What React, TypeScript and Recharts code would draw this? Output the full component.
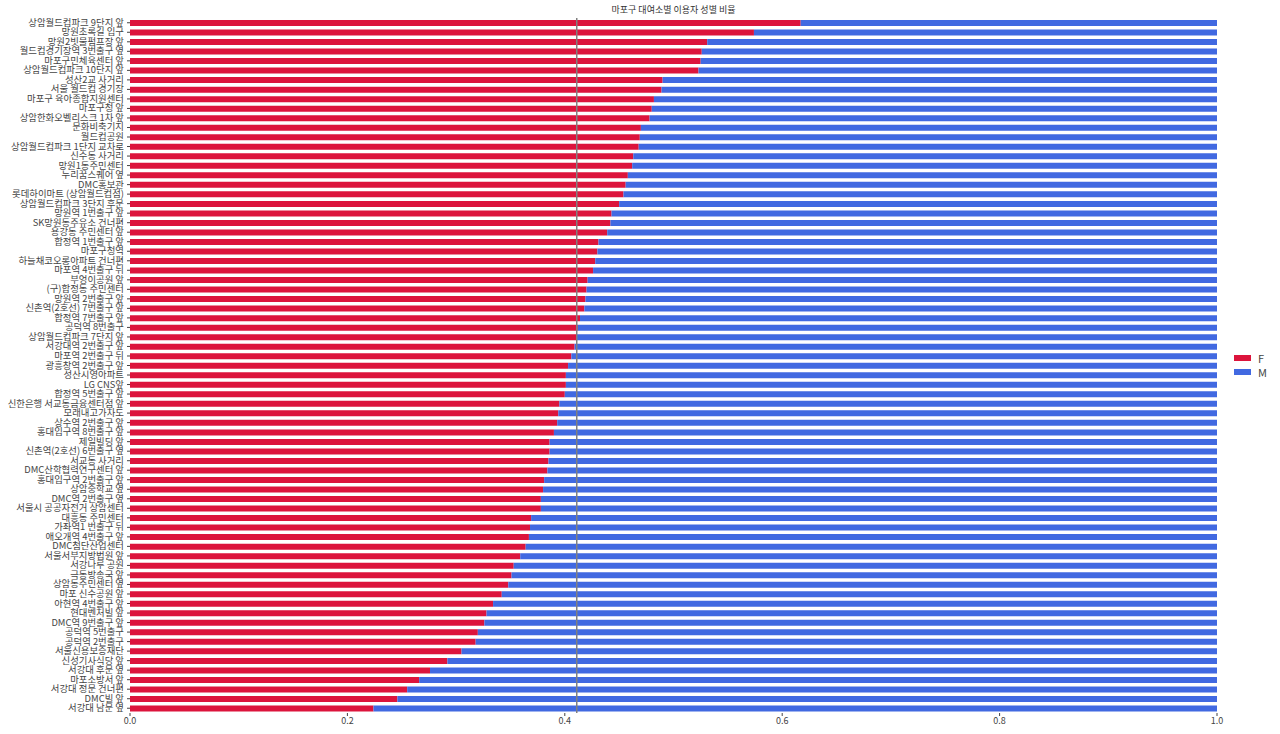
import { Bar, BarChart, ReferenceLine, XAxis, YAxis } from 'recharts';

const FEMALE = '#DC143C';
const MALE = '#4169E1';
const TEXT = '#444444';
const FONT = '"Noto Sans CJK KR", "Noto Sans", sans-serif';

const stations = [
  '상암월드컵파크 9단지 앞',
  '망원초록길 입구',
  '망원2빗물펌프장 앞',
  '월드컵경기장역 3번출구 옆',
  '마포구민체육센터 앞',
  '상암월드컵파크 10단지 앞',
  '성산2교 사거리',
  '서울 월드컵 경기장',
  '마포구 육아종합지원센터',
  '마포구청 앞',
  '상암한화오벨리스크 1차 앞',
  '문화비축기지',
  '월드컵공원',
  '상암월드컵파크 1단지 교차로',
  '신수동 사거리',
  '망원1동주민센터',
  '누리꿈스퀘어 옆',
  'DMC홍보관',
  '롯데하이마트 (상암월드컵점)',
  '상암월드컵파크 3단지 후문',
  '망원역 1번출구 앞',
  'SK망원동주유소 건너편',
  '용강동 주민센터 앞',
  '합정역 1번출구 앞',
  '마포구청역 ',
  '하늘채코오롱아파트 건너편',
  '마포역 4번출구 뒤',
  '부엉이공원 앞',
  '(구)합정동 주민센터',
  '망원역 2번출구 앞',
  '신촌역(2호선) 7번출구 앞',
  '합정역 7번출구 앞',
  '공덕역 8번출구',
  '상암월드컵파크 7단지 앞',
  '서강대역 2번출구 앞',
  '마포역 2번출구 뒤',
  '광흥창역 2번출구 앞',
  '성산시영아파트',
  'LG CNS앞',
  '합정역 5번출구 앞',
  '신한은행 서교동금융센터점 앞',
  '모래내고가차도 ',
  '상수역 2번출구 앞',
  '홍대입구역 8번출구 앞',
  '제일빌딩 앞',
  '신촌역(2호선) 6번출구 옆',
  '서교동 사거리',
  'DMC산학협력연구센터 앞',
  '홍대입구역 2번출구 앞',
  '상암중학교 옆',
  'DMC역 2번출구 옆',
  '서울시 공공자전거 상암센터',
  '대흥동 주민센터',
  '가좌역1 번출구 뒤',
  '애오개역 4번출구 앞',
  'DMC첨단산업센터',
  '서울서부지방법원 앞',
  '서강나루 공원',
  '극동방송국 앞',
  '상암동주민센터 옆',
  '마포 신수공원 앞',
  '아현역 4번출구 앞',
  '현대벤처빌 앞',
  'DMC역 9번출구 앞',
  '공덕역 5번출구',
  '공덕역 2번출구',
  '서울신용보증재단',
  '신성기사식당 앞',
  '서강대 후문 옆',
  '마포소방서 앞',
  '서강대 정문 건너편',
  'DMC빌 앞',
  '서강대 남문 옆',
];

const femaleRatio = [
  0.617, 0.574, 0.531, 0.526, 0.525, 0.523, 0.49, 0.489, 0.482, 0.48,
  0.478, 0.47, 0.469, 0.468, 0.463, 0.462, 0.458, 0.456, 0.454, 0.45,
  0.443, 0.442, 0.439, 0.431, 0.43, 0.428, 0.426, 0.421, 0.42, 0.419,
  0.418, 0.414, 0.412, 0.411, 0.409, 0.406, 0.403, 0.401, 0.401, 0.4,
  0.395, 0.394, 0.393, 0.39, 0.386, 0.386, 0.385, 0.384, 0.381, 0.38,
  0.378, 0.378, 0.369, 0.368, 0.367, 0.364, 0.359, 0.353, 0.351, 0.348,
  0.342, 0.334, 0.328, 0.326, 0.32, 0.318, 0.305, 0.292, 0.276, 0.266,
  0.255, 0.246, 0.224,
];

const maleRatio = [
  0.383, 0.426, 0.469, 0.474, 0.475, 0.477, 0.51, 0.511, 0.518, 0.52,
  0.522, 0.53, 0.531, 0.532, 0.537, 0.538, 0.542, 0.544, 0.546, 0.55,
  0.557, 0.558, 0.561, 0.569, 0.57, 0.572, 0.574, 0.579, 0.58, 0.581,
  0.582, 0.586, 0.588, 0.589, 0.591, 0.594, 0.597, 0.599, 0.599, 0.6,
  0.605, 0.606, 0.607, 0.61, 0.614, 0.614, 0.615, 0.616, 0.619, 0.62,
  0.622, 0.622, 0.631, 0.632, 0.633, 0.636, 0.641, 0.647, 0.649, 0.652,
  0.658, 0.666, 0.672, 0.674, 0.68, 0.682, 0.695, 0.708, 0.724, 0.734,
  0.745, 0.754, 0.776,
];

// mean female share, drawn as the grey vertical guide
const meanFemale = 0.411;

const xTicks = [0, 0.2, 0.4, 0.6, 0.8, 1.0];

const legendItems = [
  { label: 'F', color: FEMALE },
  { label: 'M', color: MALE },
];

const data = stations.map((name, i) => ({
  name,
  F: femaleRatio[i],
  M: maleRatio[i],
}));

// single-line tick so long station names don't wrap
function StationTick({ x, y, payload }: any): JSX.Element {
  return (
    <text
      x={x}
      y={y}
      dy={3}
      textAnchor="end"
      fill={TEXT}
      fontSize={9.4}
      fontFamily={FONT}
    >
      {payload.value}
    </text>
  );
}

function GenderLegend(): JSX.Element {
  return (
    <div
      style={{
        position: 'absolute',
        left: 1234,
        top: 351,
        fontFamily: FONT,
        fontSize: 11,
        color: TEXT,
      }}
    >
      {legendItems.map((item) => (
        <div key={item.label} style={{ display: 'flex', alignItems: 'center', height: 14 }}>
          <span
            style={{
              display: 'inline-block',
              width: 17,
              height: 6,
              backgroundColor: item.color,
              marginRight: 7,
            }}
          />
          {item.label}
        </div>
      ))}
    </div>
  );
}

export default function App(): JSX.Element {
  return (
    <div style={{ position: 'absolute', left: 0, top: 0, width: 1280, height: 734, background: '#fff' }}>
      <div
        style={{
          position: 'absolute',
          left: 130,
          top: 3,
          width: 1087,
          textAlign: 'center',
          fontFamily: FONT,
          fontSize: 9,
          color: '#333',
        }}
      >
        마포구 대여소별 이용자 성별 비율
      </div>
      <BarChart
        width={1280}
        height={734}
        data={data}
        layout="vertical"
        margin={{ top: 18, right: 63, bottom: 1, left: 0 }}
        barSize={6}
      >
        <XAxis
          type="number"
          domain={[0, 1]}
          ticks={xTicks}
          tickFormatter={(v: number) => v.toFixed(1)}
          axisLine={false}
          tickLine={{ stroke: TEXT }}
          tickSize={3}
          height={20}
          tick={{ fill: TEXT, fontSize: 9, fontFamily: FONT }}
        />
        <YAxis
          type="category"
          dataKey="name"
          width={130}
          interval={0}
          axisLine={false}
          tickLine={{ stroke: TEXT }}
          tickSize={3}
          tickMargin={3}
          tick={<StationTick />}
        />
        <Bar dataKey="F" stackId="a" fill={FEMALE} isAnimationActive={false} />
        <Bar dataKey="M" stackId="a" fill={MALE} isAnimationActive={false} />
        <ReferenceLine x={meanFemale} stroke="#808080" strokeWidth={1.5} />
      </BarChart>
      <GenderLegend />
    </div>
  );
}
